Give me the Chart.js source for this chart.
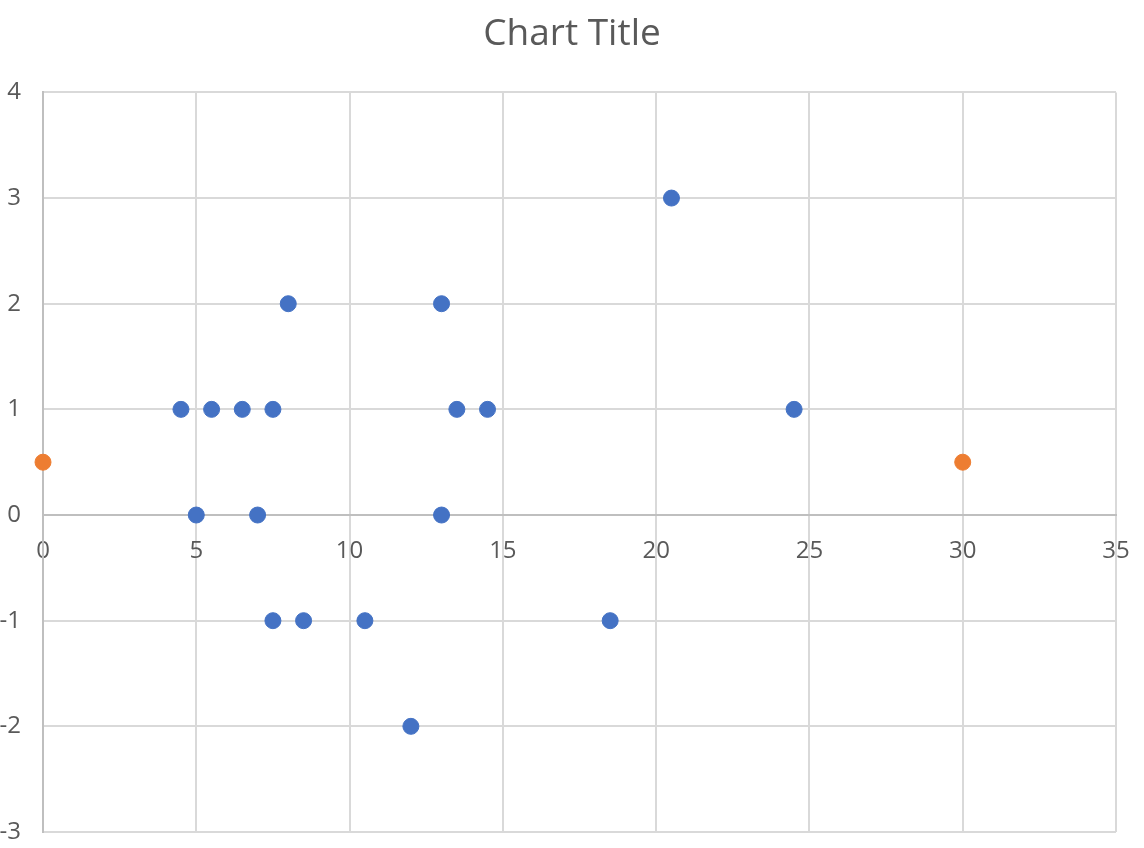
<!DOCTYPE html>
<html>
<head>
<meta charset="utf-8">
<script src="https://cdn.jsdelivr.net/npm/chart.js@4"></script>
<style>
  html, body { margin: 0; padding: 0; background: #fff; }
  #wrap { width: 1144px; height: 848px; }
</style>
</head>
<body>
<div id="wrap"><canvas id="myChart"></canvas></div>
<script>
var blueX = [20.5, 8, 13, 4.5, 5.5, 6.5, 7.5, 13.5, 14.5, 24.5, 5, 7, 13, 7.5, 8.5, 10.5, 18.5, 12];
var blueY = [3, 2, 2, 1, 1, 1, 1, 1, 1, 1, 0, 0, 0, -1, -1, -1, -1, -2];
var orangeX = [0, 30];
var orangeY = [0.5, 0.5];
var xTicks = [0, 5, 10, 15, 20, 25, 30, 35];
var yTicks = [-3, -2, -1, 0, 1, 2, 3, 4];

function puntos(xs, ys){
    var out = [];
    for (var i = 0; i < xs.length; i++) {
        out.push({x: xs[i], y: ys[i]});
    }
    return out;
}

var ctx = document.getElementById('myChart').getContext('2d');
var chart = new Chart(ctx, {
    type: 'scatter',
    data: {
        datasets: [{
            label: 'Series1',
            backgroundColor: '#4472C4',
            borderColor: '#4472C4',
            pointRadius: 8,
            pointHoverRadius: 8,
            clip: false,
            data: puntos(blueX, blueY)
        }, {
            label: 'Series2',
            backgroundColor: '#ED7D31',
            borderColor: '#ED7D31',
            pointRadius: 8,
            pointHoverRadius: 8,
            clip: false,
            data: puntos(orangeX, orangeY)
        }]
    },
    options: {
        responsive: true,
        maintainAspectRatio: false,
        animation: false,
        layout: {padding: {left: 0, right: 0, bottom: 16, top: 0}},
        plugins: {
            legend: {display: false},
            tooltip: {enabled: false},
            title: {
                display: true,
                text: 'Chart Title',
                color: '#595959',
                font: {family: 'Open Sans', size: 37, weight: 'normal'},
                padding: {top: 12, bottom: 36}
            }
        },
        scales: {
            x: {
                type: 'linear',
                position: {y: 0},
                min: 0,
                max: 35,
                afterBuildTicks: function(s){ s.ticks = xTicks.map(function(v){ return {value: v}; }); },
                afterFit: function(s){ s.paddingLeft = 0; s.paddingRight = 0; },
                grid: {color: '#D9D9D9', lineWidth: 2, drawTicks: false},
                border: {display: true, color: '#BFBFBF', width: 2},
                ticks: {color: '#595959', padding: 22, font: {family: 'Open Sans', size: 24}, maxRotation: 0}
            },
            y: {
                type: 'linear',
                min: -3,
                max: 4,
                afterBuildTicks: function(s){ s.ticks = yTicks.map(function(v){ return {value: v}; }); },
                afterFit: function(s){ s.width = 43; s.paddingTop = 0; s.paddingBottom = 0; },
                grid: {color: '#D9D9D9', lineWidth: 2, drawTicks: false},
                border: {display: true, color: '#BFBFBF', width: 2},
                ticks: {color: '#595959', padding: 22, font: {family: 'Open Sans', size: 24}}
            },
            // eje vacio a la derecha, solo para dejar el margen
            y2: {
                type: 'linear',
                position: 'right',
                min: -3,
                max: 4,
                afterFit: function(s){ s.width = 28; s.paddingTop = 0; s.paddingBottom = 0; },
                grid: {display: false},
                border: {display: false},
                ticks: {display: false}
            }
        }
    }
});
</script>
</body>
</html>
